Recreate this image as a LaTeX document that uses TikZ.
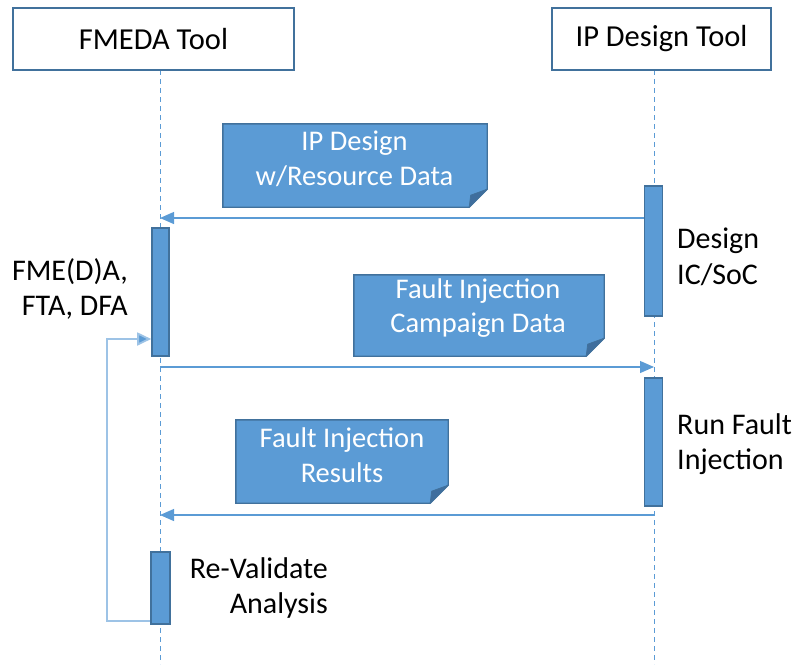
\documentclass[tikz,border=0pt]{standalone}
\usepackage{fontspec}
\setmainfont{Carlito}
\usetikzlibrary{arrows.meta}
\definecolor{bfill}{HTML}{5B9BD5}
\definecolor{bdraw}{HTML}{41719C}
\definecolor{bline}{HTML}{5B9BD5}
\definecolor{bloop}{HTML}{9DC3E6}
\definecolor{bfold}{HTML}{3F6E9E}
\newcommand{\dogear}[1]{%
  \path[notebox] (#1.north west) -- (#1.north east) -- ([yshift=18pt]#1.south east)
    -- ([xshift=-18pt]#1.south east) -- (#1.south west) -- cycle;
  \path[foldfill] ([yshift=18pt]#1.south east) -- ([xshift=-16.5pt,yshift=12pt]#1.south east)
    -- ([xshift=-18pt]#1.south east) -- cycle;}
\begin{document}
\begin{tikzpicture}[x=1pt,y=-1pt,
  txt/.style={font=\fontsize{30}{35.5}\selectfont, inner sep=0pt},
  hdr/.style={draw=bdraw, line width=1.6pt, fill=white, inner sep=0pt, font=\fontsize{30.5}{35}\selectfont},
  notenode/.style={draw=none, inner sep=0pt},
  notebox/.style={fill=bfill, draw=bdraw, line width=1.4pt, line join=miter},
  foldfill/.style={fill=bfold, draw=bdraw, line width=0.8pt, line join=round},
  notetext/.style={font=\fontsize{28.5}{34.5}\selectfont, inner sep=0pt, text=white, align=center},
  act/.style={fill=bfill, draw=bdraw, line width=1.6pt, inner sep=0pt, minimum width=18pt},
  life/.style={draw=bline, line width=0.9pt, dash pattern=on 5pt off 4pt},
  msg/.style={draw=bline, line width=1.2pt, -{Triangle[length=14pt,width=12pt]}},
  loopline/.style={draw=bloop, line width=1.8pt, -{Triangle[length=14pt,width=13pt,fill=bline]}},
]
\useasboundingbox (0,0) rectangle (794,664);

% lifelines
\coordinate (ll) at (160,70);
\coordinate (llend) at (160,664);
\coordinate (rl) at (654,70);
\coordinate (rlend) at (654,664);
\draw[life] (ll) -- (llend);
\draw[life] (rl) -- (rlend);

% headers
\node[hdr, minimum width=281pt, minimum height=62pt] (h1) at (153.5,39) {FMEDA Tool};
\node[hdr, minimum width=219pt, minimum height=62pt] (h2) at (661.5,39) {IP Design Tool};

% notes
\node[notenode, minimum width=264pt, minimum height=83pt] (n1) at (355,165.5) {};
\dogear{n1}
\node[notetext] (t1) at (354.5,159) {IP Design\\w/Resource Data};

\node[notenode, minimum width=250pt, minimum height=81pt] (n2) at (479,315.5) {};
\dogear{n2}
\node[notetext] (t2) at (478,308) {Fault Injection\\Campaign Data};

\node[notenode, minimum width=212pt, minimum height=83pt] (n3) at (342,461.5) {};
\dogear{n3}
\node[notetext] (t3) at (342,455) {Fault Injection\\Results};

% activations
\node[act, minimum width=17pt, minimum height=128pt] (la1) at (160.5,292) {};
\node[act, minimum width=19pt, minimum height=72pt] (la2) at (160.5,588) {};
\node[act, minimum height=130pt] (ra1) at (653.5,251) {};
\node[act, minimum height=128pt] (ra2) at (653.5,442) {};

% messages
\draw[msg] (ra1.west |- 0,218) -- (ll |- 0,218);
\draw[msg] (ll |- 0,367) -- (rl |- 0,367);
\draw[msg] (rl |- 0,515) -- (ll |- 0,515);

% loop
\coordinate (lpb) at (107,621);
\coordinate (lpt) at (107,339);
\draw[loopline] (la2.west |- lpb) -- (lpb) -- (lpt) -- (la1.west |- lpt);

% side labels
\node[txt, anchor=east, align=right] (s1) at (128,289) {FME(D)A,\\FTA, DFA};
\node[txt, anchor=west, align=left] (s2) at (677,257) {Design\\IC/SoC};
\node[txt, anchor=west, align=left] (s3) at (677,444) {Run Fault\\Injection};
\node[txt, anchor=east, align=right] (s4) at (328,588) {Re-Validate\\Analysis};
\end{tikzpicture}
\end{document}
